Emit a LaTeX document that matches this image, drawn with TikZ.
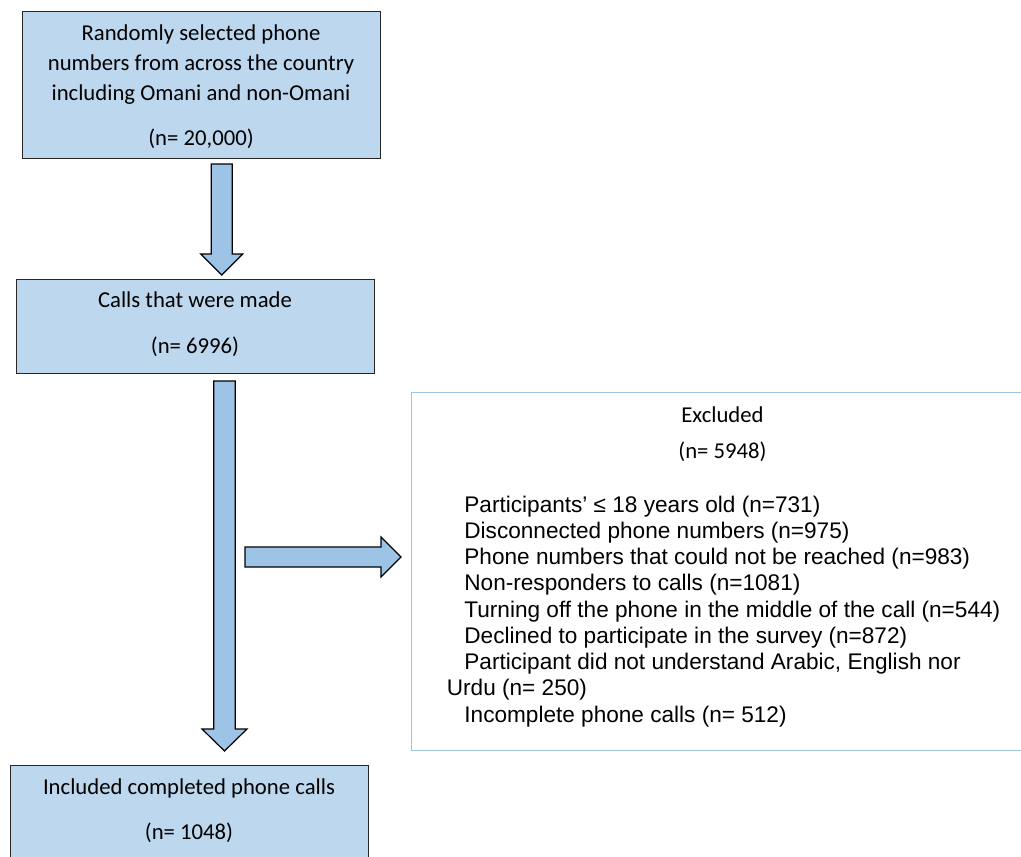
\documentclass[tikz,border=0pt]{standalone}
\usepackage{fontspec}
\setmainfont{Carlito}
\newfontfamily\arialf{Liberation Sans}
\usetikzlibrary{calc}
\definecolor{boxfill}{HTML}{BDD7EE}
\definecolor{arrowfill}{HTML}{9DC3E6}
\definecolor{exborder}{HTML}{9DC3E6}
\definecolor{boxline}{HTML}{262626}
\begin{document}
\begin{tikzpicture}[x=1pt,y=-1pt,
  flowbox/.style={draw=boxline, line width=1.4pt, fill=boxfill, inner sep=0pt,
    minimum width=358pt, anchor=north west},
  exbox/.style={draw=exborder, line width=1.3pt, inner sep=0pt, anchor=north west,
    minimum width=640pt, minimum height=358pt},
  blockarrow/.style={draw=black, line width=1.2pt, fill=arrowfill, line join=miter},
  boxtxt/.style={inner sep=0pt, anchor=base, font=\fontsize{22.7}{29.5}\selectfont},
  listtxt/.style={inner sep=0pt, anchor=north west, align=left,
    font=\arialf\fontsize{22.6}{26.25}\selectfont}]
\useasboundingbox (0,0) rectangle (1021,857);
\fill[white] (0,0) rectangle (1021,857);

% boxes
\node[flowbox, minimum height=147pt] (b1) at (22,11) {};
\node[flowbox, minimum height=94pt] (b2) at (16,279) {};
\node[flowbox, minimum height=100pt] (b3) at (10,765) {};
\node[exbox] (ex) at (411,392) {};

% box texts
\node[boxtxt] (b1l1) at (201,40.7) {Randomly selected phone};
\node[boxtxt] (b1l2) at (201,70.5) {numbers from across the country};
\node[boxtxt] (b1l3) at (201,100) {including Omani and non-Omani};
\node[boxtxt] (b1l4) at (201,145.7) {(n= 20,000)};
\node[boxtxt] (b2l1) at (195,307.8) {Calls that were made};
\node[boxtxt] (b2l2) at (195,353.3) {(n= 6996)};
\node[boxtxt] (b3l1) at (189,794) {Included completed phone calls};
\node[boxtxt] (b3l2) at (189,839.3) {(n= 1048)};
\node[boxtxt] (exl1) at (722.5,422.3) {Excluded};
\node[boxtxt] (exl2) at (722.5,458.5) {(n= 5948)};

\node[listtxt] (exlist) at (446.7,493.6) {%
\hspace*{17.5pt}\strut Participants’ ≤ 18 years old (n=731)\\
\hspace*{17.5pt}Disconnected phone numbers (n=975)\\
\hspace*{17.5pt}Phone numbers that could not be reached (n=983)\\
\hspace*{17.5pt}Non-responders to calls (n=1081)\\
\hspace*{17.5pt}Turning off the phone in the middle of the call (n=544)\\
\hspace*{17.5pt}Declined to participate in the survey (n=872)\\
\hspace*{17.5pt}Participant did not understand Arabic, English nor\\
Urdu (n= 250)\\
\hspace*{17.5pt}Incomplete phone calls (n= 512)};

% block arrows
\coordinate (a1top) at (221.7,164);
\coordinate (a1tip) at (221.7,275);
\draw[blockarrow] (a1top) ++(-10.5,0) -- ++(21,0) -- ++(0,90) -- ++(10.5,0)
  -- (a1tip) -- ++(-21,-21) -- ++(10.5,0) -- cycle;

\coordinate (a2top) at (224.5,381);
\coordinate (a2tip) at (224.5,751);
\draw[blockarrow] (a2top) ++(-10.8,0) -- ++(21.6,0) -- ++(0,348) -- ++(11.7,0)
  -- (a2tip) -- ++(-22.5,-22) -- ++(11.7,0) -- cycle;

\coordinate (a3start) at (245,557);
\coordinate (a3tip) at (401,557);
\draw[blockarrow] (a3start) ++(0,-10) -- ++(136,0) -- ++(0,-10)
  -- (a3tip) -- ++(-20,20) -- ++(0,-10) -- ++(-136,0) -- cycle;
\end{tikzpicture}
\end{document}
